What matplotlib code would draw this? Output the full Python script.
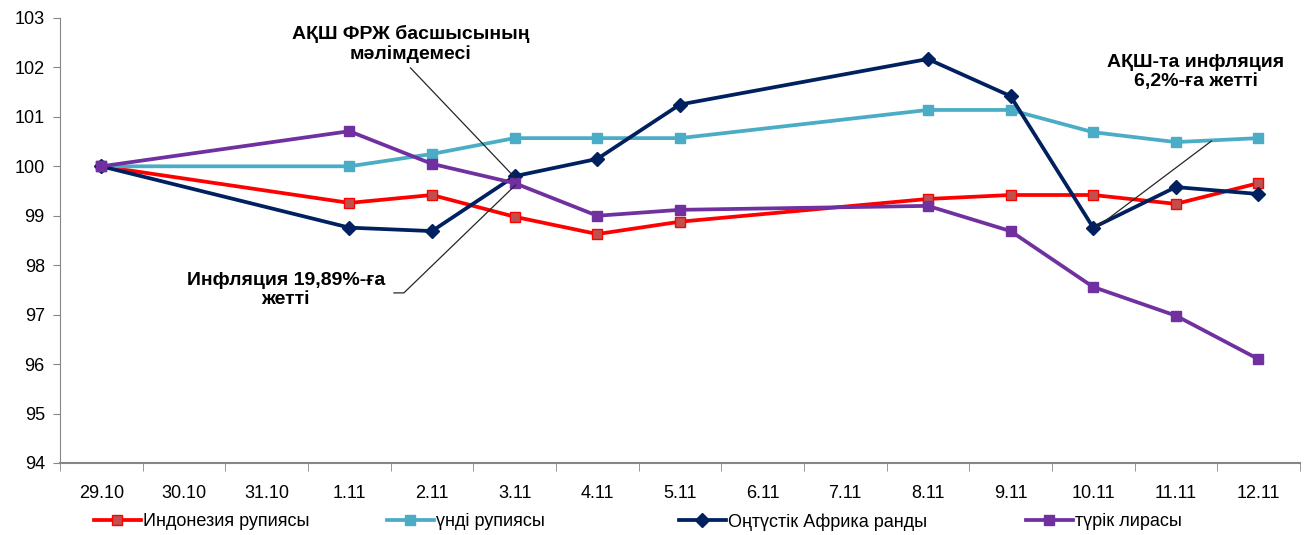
import matplotlib.pyplot as plt
import numpy as np

plt.rcParams['font.family'] = ['Liberation Sans', 'DejaVu Sans']

dates = ['29.10', '30.10', '31.10', '1.11', '2.11', '3.11', '4.11', '5.11',
         '6.11', '7.11', '8.11', '9.11', '10.11', '11.11', '12.11']

# None = no trading data for that day
idr = [100.0, None, None, 99.26, 99.42, 98.98, 98.63, 98.88, None, None, 99.34, 99.42, 99.42, 99.24, 99.66]
inr = [100.0, None, None, 100.0, 100.25, 100.57, 100.57, 100.57, None, None, 101.14, 101.14, 100.69, 100.49, 100.57]
zar = [100.0, None, None, 98.76, 98.69, 99.80, 100.15, 101.25, None, None, 102.17, 101.42, 98.76, 99.58, 99.44]
tryl = [100.0, None, None, 100.71, 100.05, 99.66, 99.00, 99.12, None, None, 99.20, 98.69, 97.56, 96.98, 96.10]

series = [
    ('Индонезия рупиясы', idr, '#ff0000', 's', '#c0504d'),
    ('үнді рупиясы', inr, '#4bacc6', 's', '#4bacc6'),
    ('Оңтүстік Африка ранды', zar, '#002060', 'D', '#002060'),
    ('түрік лирасы', tryl, '#7030a0', 's', '#7030a0'),
]

fig = plt.figure(figsize=(13.14, 5.35), dpi=100)
ax = fig.add_axes([0.0457, 0.1346, 0.9435, 0.8318])

handles = []
for name, vals, col, mk, face in series:
    xs = [i for i, v in enumerate(vals) if v is not None]
    ys = [v for v in vals if v is not None]
    ms = 7.5 if mk == 'D' else 7
    h, = ax.plot(xs, ys, color=col, lw=2.7, marker=mk, markersize=ms,
                 markerfacecolor=face, markeredgecolor=col, label=name)
    handles.append(h)

ax.set_xlim(-0.5, len(dates) - 0.5)
ax.set_ylim(94, 103)
ax.set_yticks(range(94, 104))
ax.set_xticks(range(len(dates)))
ax.set_xticklabels(dates)
ax.set_xticks(np.arange(-0.5, len(dates), 1), minor=True)
ax.tick_params(axis='x', which='major', length=0, pad=16, labelsize=13)
ax.tick_params(axis='x', which='minor', length=6, color='#868686')
ax.tick_params(axis='y', length=5, color='#868686', labelsize=13, pad=6)

for s in ['top', 'right']:
    ax.spines[s].set_visible(False)
ax.spines['left'].set_color('#868686')
ax.spines['bottom'].set_color('#868686')
ax.spines['bottom'].set_linewidth(1.5)

# annotations
ax.text(3.74, 102.47, 'АҚШ ФРЖ басшысының\nмәлімдемесі', ha='center', va='center',
        fontsize=14, fontweight='bold', linespacing=1.15)
ax.plot([3.74, 5.01], [101.99, 99.76], color='#262626', lw=0.9)

ax.text(2.23, 97.5, 'Инфляция 19,89%-ға\nжетті', ha='center', va='center',
        fontsize=14, fontweight='bold', linespacing=1.15)
ax.plot([3.54, 3.66, 5.01], [97.44, 97.44, 99.62], color='#262626', lw=0.9)

ax.text(13.24, 101.91, 'АҚШ-та инфляция\n6,2%-ға жетті', ha='center', va='center',
        fontsize=14, fontweight='bold', linespacing=1.15)
ax.plot([13.43, 12.03], [100.51, 98.75], color='#262626', lw=0.9)

# legend entries placed like the original
leg_x = [88, 381, 673, 1020]
for h, lx in zip(handles, leg_x):
    fig.legend(handles=[h], loc='center left', bbox_to_anchor=(lx / 1314 - 0.008, 1 - 522 / 535),
               frameon=False, fontsize=13, handlelength=2.6, handletextpad=0.15)

fig.savefig('out.png', dpi=100)
